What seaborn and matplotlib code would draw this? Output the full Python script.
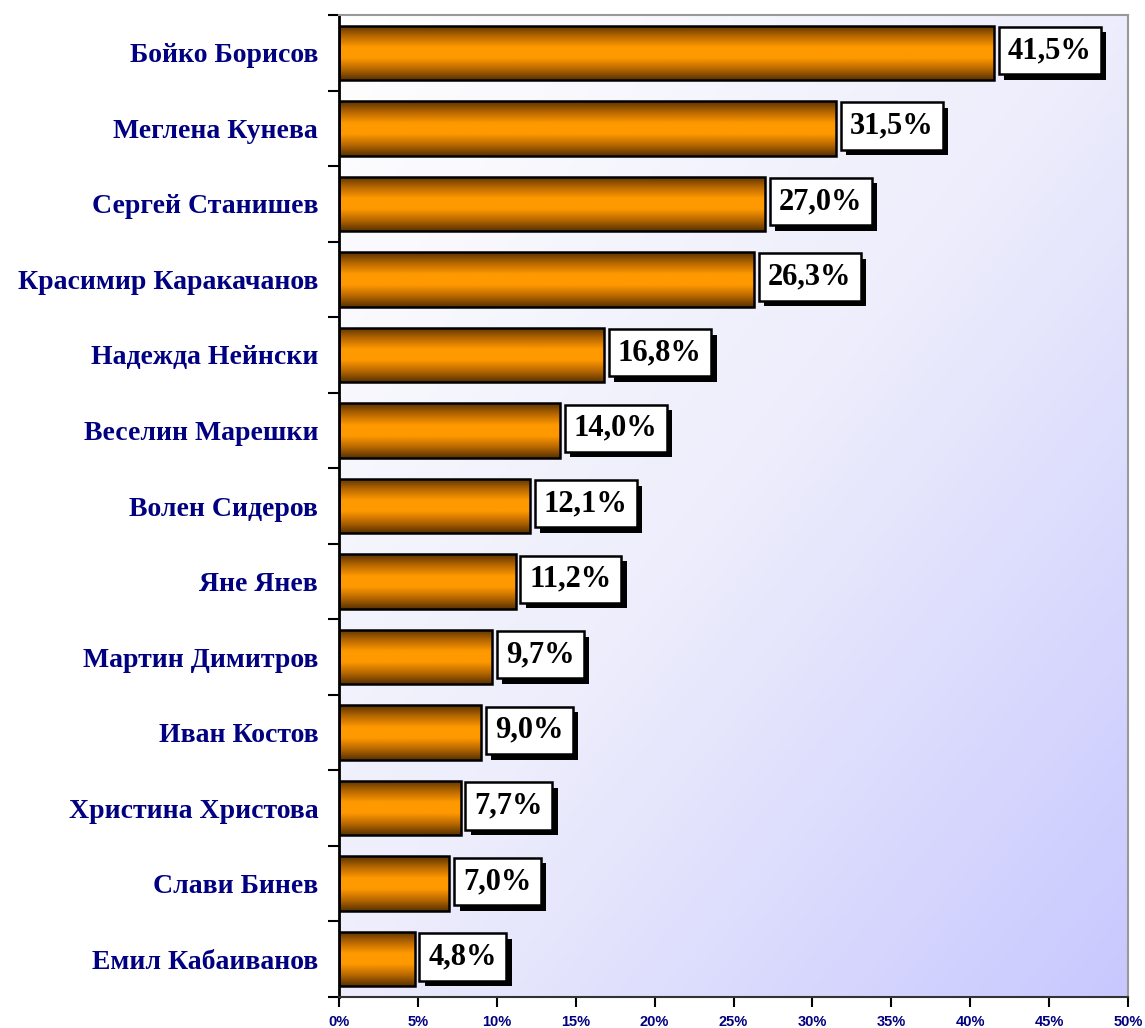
import numpy as np
import pandas as pd
import matplotlib
matplotlib.use("Agg")
import matplotlib.pyplot as plt
import matplotlib.patheffects as pe
from matplotlib.colors import LinearSegmentedColormap
import seaborn as sns

names = ["Бойко Борисов", "Меглена Кунева", "Сергей Станишев", "Красимир Каракачанов",
         "Надежда Нейнски", "Веселин Марешки", "Волен Сидеров", "Яне Янев",
         "Мартин Димитров", "Иван Костов", "Христина Христова", "Слави Бинев",
         "Емил Кабаиванов"]
values = [41.5, 31.5, 27.0, 26.3, 16.8, 14.0, 12.1, 11.2, 9.7, 9.0, 7.7, 7.0, 4.8]
xticks = [0, 5, 10, 15, 20, 25, 30, 35, 40, 45, 50]

df = pd.DataFrame({"name": names, "value": values})

sns.set_style("white")
plt.rcParams["font.family"] = ["Liberation Serif", "DejaVu Serif"]

fig = plt.figure(figsize=(11.45, 10.28), dpi=100)
ax = fig.add_axes([339 / 1145, 31 / 1028, (1128 - 339) / 1145, (997 - 15) / 1028])

sns.barplot(data=df, x="value", y="name", ax=ax, width=0.72, color="#ff9900",
            edgecolor="black", linewidth=1.8, orient="h")

# background gradient
gx, gy = np.meshgrid(np.linspace(0, 1, 200), np.linspace(0, 1, 200))
g = (gx + gy) / 2
bg_cmap = LinearSegmentedColormap.from_list("bg", ["#ffffff", "#ededfc", "#c8c8ff"])
ax.imshow(g, extent=(0, 50, len(names) - 0.5, -0.5), cmap=bg_cmap, aspect="auto",
          zorder=0, origin="upper", vmin=0, vmax=1)

# bar gradients
bar_cmap = LinearSegmentedColormap.from_list(
    "bar", ["#5a3200", "#b86800", "#ff9900", "#ff9900", "#b86800", "#5a3200"])
grad = np.linspace(0, 1, 100).reshape(-1, 1)
for p in ax.patches:
    x0, y0 = p.get_x(), p.get_y()
    w, h = p.get_width(), p.get_height()
    im = ax.imshow(grad, extent=(x0, x0 + w, y0 + h, y0), cmap=bar_cmap, aspect="auto",
                   zorder=2, vmin=0, vmax=1)
    im.set_clip_path(p)
    p.set_zorder(3)
    p.set_facecolor("none")

# value labels
for i, v in enumerate(values):
    t = ax.text(v + 0.88, i - 0.03, f"{v:.1f}%".replace(".", ","), va="center", ha="left",
                fontsize=22, fontweight="bold", color="black", zorder=5,
                bbox=dict(boxstyle="square,pad=0.3", fc="white", ec="black", lw=1.8))
    t.get_bbox_patch().set_path_effects([
        pe.SimplePatchShadow(offset=(4, -4), shadow_rgbFace="black", alpha=1.0),
        pe.Normal()])

ax.set_xlim(0, 50)
ax.set_ylim(len(names) - 0.5, -0.5)
ax.set_xticks(xticks)
ax.set_xticklabels([f"{t}%" for t in xticks], fontfamily="Liberation Sans",
                   fontweight="bold", fontsize=10.5, color="#000080")
ax.set_yticks(range(len(names)))
ax.set_yticklabels(names, fontsize=20, fontweight="bold", color="#000080")
ax.set_yticks(np.arange(-0.5, len(names), 1), minor=True)
ax.tick_params(axis="y", which="major", length=0, pad=15, left=False)
ax.tick_params(axis="y", which="minor", length=8, width=1.5, color="black",
               direction="out", left=True)
ax.tick_params(axis="x", which="major", length=7, width=1.5, color="black",
               direction="out", pad=6, bottom=True)
ax.set_xlabel("")
ax.set_ylabel("")

for s in ["top", "right"]:
    ax.spines[s].set_color("#999999")
    ax.spines[s].set_linewidth(1.5)
ax.spines["left"].set_color("black")
ax.spines["left"].set_linewidth(2)
ax.spines["bottom"].set_color("#333333")
ax.spines["bottom"].set_linewidth(1.5)

fig.savefig("out.png", dpi=100)
